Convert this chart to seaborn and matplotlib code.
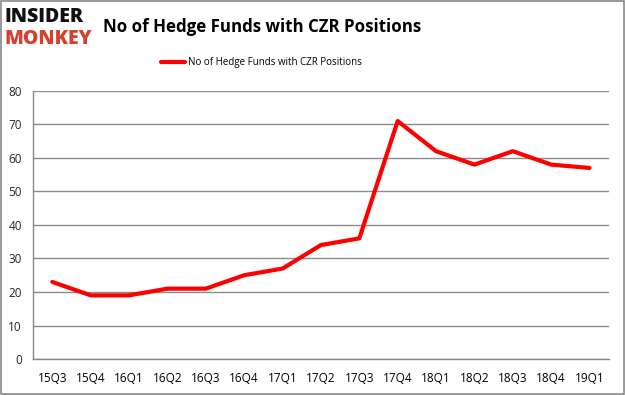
import matplotlib
matplotlib.use("Agg")
import matplotlib.pyplot as plt
import seaborn as sns
import pandas as pd
import numpy as np

quarters = ["15Q3", "15Q4", "16Q1", "16Q2", "16Q3", "16Q4", "17Q1", "17Q2",
            "17Q3", "17Q4", "18Q1", "18Q2", "18Q3", "18Q4", "19Q1"]
hedge_funds = [23, 19, 19, 21, 21, 25, 27, 34, 36, 71, 62, 58, 62, 58, 57]
series_name = "No of Hedge Funds with CZR Positions"

df = pd.DataFrame({"quarter": quarters, "funds": hedge_funds})
df["pos"] = np.arange(len(quarters))

sns.set_style("white")
plt.rcParams['font.family'] = ['Open Sans', 'DejaVu Sans']

fig = plt.figure(figsize=(6.25, 3.95), dpi=100)
ax = fig.add_axes([0.053, 0.091, 0.921, 0.679])

sns.lineplot(data=df, x="pos", y="funds", color="#ff0000", linewidth=3.0,
             ax=ax, legend=False)

ax.set_xlim(-0.5, len(quarters) - 0.5)
ax.set_ylim(0, 80)
ax.set_yticks(range(0, 81, 10))
ax.set_xticks(df["pos"])
ax.set_xticklabels(quarters)
ax.set_xticks(np.arange(-0.5, len(quarters), 1), minor=True)
ax.tick_params(axis="x", which="major", length=0, pad=9, labelsize=8.5, colors="#000000")
ax.tick_params(axis="x", which="minor", length=5, color="#888888", width=1)
ax.tick_params(axis="y", length=5, color="#888888", labelsize=8.5, pad=3)
ax.yaxis.grid(True, color="#8c8c8c", linewidth=1)
ax.set_axisbelow(True)
ax.set_xlabel("")
ax.set_ylabel("")
for side in ["top", "right"]:
    ax.spines[side].set_visible(False)
for side in ["left", "bottom"]:
    ax.spines[side].set_color("#888888")
    ax.spines[side].set_linewidth(1)

# title and legend
fig.text(0.419, 0.932, series_name, ha="center", va="center",
         fontsize=12.2, fontweight="bold", color="#000000")
fig.add_artist(plt.Line2D([0.258, 0.296], [0.843, 0.843], color="#ff0000",
                          linewidth=3.0, transform=fig.transFigure))
fig.text(0.301, 0.843, series_name, ha="left", va="center", fontsize=7, color="#000000")

# logo
fig.text(0.008, 0.957, "INSIDER", ha="left", va="center", fontsize=14,
         fontweight="black", color="#111111")
fig.text(0.008, 0.900, "MONKEY", ha="left", va="center", fontsize=14,
         fontweight="black", color="#d5412e")

# outer border
fig.add_artist(plt.Rectangle((0.001, 0.002), 0.997, 0.995, fill=False,
                             edgecolor="#888888", linewidth=1.2,
                             transform=fig.transFigure))

fig.savefig("out.png", dpi=100)
